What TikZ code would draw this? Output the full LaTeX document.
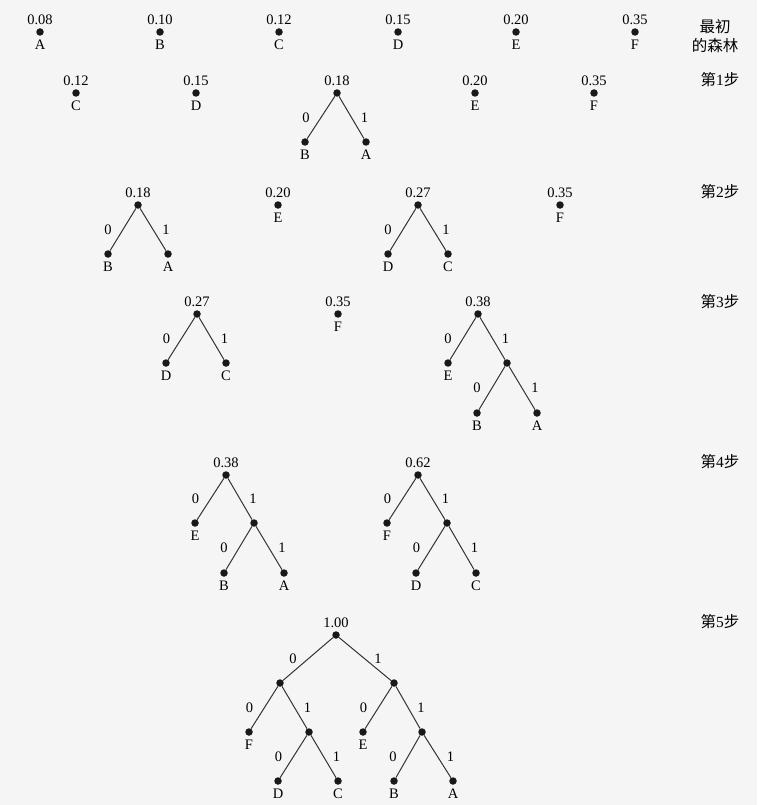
\documentclass[tikz,border=0pt]{standalone}
\usepackage{fontspec}
\setmainfont{Liberation Serif}
\newfontfamily\cjk{Noto Sans CJK SC}
\usetikzlibrary{positioning}

\begin{document}
\begin{tikzpicture}[x=1pt, y=-1pt, label distance=1pt,
	dot/.style={circle, fill=black!90, inner sep=0pt, minimum size=7.5pt},
	val/.style={font=\fontsize{14.5}{17}\selectfont, inner sep=2.5pt},
	ltr/.style={font=\fontsize{14.5}{17}\selectfont, inner sep=2.5pt},
	link/.style={draw=black!80, line width=1pt},
	bit/.style={midway, font=\fontsize{14.5}{17}\selectfont},
	zero/.style={bit, xshift=-15pt},
	one/.style={bit, xshift=13pt},
	stepname/.style={font=\fontsize{15.5}{19}\selectfont, align=center}]
	\useasboundingbox[fill=black!4] (0,0) rectangle (757,805);

	% initial forest
	\node[dot, label={[val]above:0.08}, label={[ltr]below:A}] (a0) at (40,32) {};
	\node[dot, label={[val]above:0.10}, label={[ltr]below:B}] (b0) at (160,32) {};
	\node[dot, label={[val]above:0.12}, label={[ltr]below:C}] (c0) at (279,32) {};
	\node[dot, label={[val]above:0.15}, label={[ltr]below:D}] (d0) at (398,32) {};
	\node[dot, label={[val]above:0.20}, label={[ltr]below:E}] (e0) at (516,32) {};
	\node[dot, label={[val]above:0.35}, label={[ltr]below:F}] (f0) at (635,32) {};
	\node[stepname] (s0) at (715,36) {{\cjk 最初}\\{\cjk 的森林}};

	% step 1
	\node[dot, label={[val]above:0.12}, label={[ltr]below:C}] (c1) at (76,93) {};
	\node[dot, label={[val]above:0.15}, label={[ltr]below:D}] (d1) at (196,93) {};
	\node[dot, label={[val]above:0.18}] (ba1) at (337,93) {};
	\node[dot, label={[ltr]below:B}] (b1) at (305,142) {};
	\node[dot, label={[ltr]below:A}] (a1) at (366,142) {};
	\node[dot, label={[val]above:0.20}, label={[ltr]below:E}] (e1) at (475,93) {};
	\node[dot, label={[val]above:0.35}, label={[ltr]below:F}] (f1) at (594,93) {};
	\draw[link] (ba1) -- node[zero] {0} (b1);
	\draw[link] (ba1) -- node[one] {1} (a1);
	\node[stepname] (s1) at (720,80) {{\cjk 第}1{\cjk 步}};

	% step 2
	\node[dot, label={[val]above:0.18}] (ba2) at (138,205) {};
	\node[dot, label={[ltr]below:B}] (b2) at (108,254) {};
	\node[dot, label={[ltr]below:A}] (a2) at (168,254) {};
	\node[dot, label={[val]above:0.20}, label={[ltr]below:E}] (e2) at (278,205) {};
	\node[dot, label={[val]above:0.27}] (dc2) at (418,205) {};
	\node[dot, label={[ltr]below:D}] (d2) at (388,254) {};
	\node[dot, label={[ltr]below:C}] (c2) at (448,254) {};
	\node[dot, label={[val]above:0.35}, label={[ltr]below:F}] (f2) at (560,205) {};
	\draw[link] (ba2) -- node[zero] {0} (b2);
	\draw[link] (ba2) -- node[one] {1} (a2);
	\draw[link] (dc2) -- node[zero] {0} (d2);
	\draw[link] (dc2) -- node[one] {1} (c2);
	\node[stepname] (s2) at (720,192) {{\cjk 第}2{\cjk 步}};

	% step 3
	\node[dot, label={[val]above:0.27}] (dc3) at (197,314) {};
	\node[dot, label={[ltr]below:D}] (d3) at (166,363) {};
	\node[dot, label={[ltr]below:C}] (c3) at (226,363) {};
	\node[dot, label={[val]above:0.35}, label={[ltr]below:F}] (f3) at (338,314) {};
	\node[dot, label={[val]above:0.38}] (eba3) at (478,314) {};
	\node[dot, label={[ltr]below:E}] (e3) at (448,363) {};
	\node[dot] (ba3) at (507,363) {};
	\node[dot, label={[ltr]below:B}] (b3) at (477,413) {};
	\node[dot, label={[ltr]below:A}] (a3) at (537,413) {};
	\draw[link] (dc3) -- node[zero] {0} (d3);
	\draw[link] (dc3) -- node[one] {1} (c3);
	\draw[link] (eba3) -- node[zero] {0} (e3);
	\draw[link] (eba3) -- node[one] {1} (ba3);
	\draw[link] (ba3) -- node[zero] {0} (b3);
	\draw[link] (ba3) -- node[one] {1} (a3);
	\node[stepname] (s3) at (720,302) {{\cjk 第}3{\cjk 步}};

	% step 4
	\node[dot, label={[val]above:0.38}] (eba4) at (226,475) {};
	\node[dot, label={[ltr]below:E}] (e4) at (195,523) {};
	\node[dot] (ba4) at (254,523) {};
	\node[dot, label={[ltr]below:B}] (b4) at (224,573) {};
	\node[dot, label={[ltr]below:A}] (a4) at (284,573) {};
	\node[dot, label={[val]above:0.62}] (fdc4) at (418,475) {};
	\node[dot, label={[ltr]below:F}] (f4) at (387,523) {};
	\node[dot] (dc4) at (447,523) {};
	\node[dot, label={[ltr]below:D}] (d4) at (416,573) {};
	\node[dot, label={[ltr]below:C}] (c4) at (476,573) {};
	\draw[link] (eba4) -- node[zero] {0} (e4);
	\draw[link] (eba4) -- node[one] {1} (ba4);
	\draw[link] (ba4) -- node[zero] {0} (b4);
	\draw[link] (ba4) -- node[one] {1} (a4);
	\draw[link] (fdc4) -- node[zero] {0} (f4);
	\draw[link] (fdc4) -- node[one] {1} (dc4);
	\draw[link] (dc4) -- node[zero] {0} (d4);
	\draw[link] (dc4) -- node[one] {1} (c4);
	\node[stepname] (s4) at (720,462) {{\cjk 第}4{\cjk 步}};

	% step 5
	\node[dot, label={[val]above:1.00}] (all5) at (336,635) {};
	\node[dot] (fdc5) at (280,683) {};
	\node[dot] (eba5) at (394,683) {};
	\node[dot, label={[ltr]below:F}] (f5) at (249,732) {};
	\node[dot] (dc5) at (309,732) {};
	\node[dot, label={[ltr]below:E}] (e5) at (363,732) {};
	\node[dot] (ba5) at (422,732) {};
	\node[dot, label={[ltr]below:D}] (d5) at (278,781) {};
	\node[dot, label={[ltr]below:C}] (c5) at (338,781) {};
	\node[dot, label={[ltr]below:B}] (b5) at (394,781) {};
	\node[dot, label={[ltr]below:A}] (a5) at (453,781) {};
	\draw[link] (all5) -- node[zero] {0} (fdc5);
	\draw[link] (all5) -- node[one] {1} (eba5);
	\draw[link] (fdc5) -- node[zero] {0} (f5);
	\draw[link] (fdc5) -- node[one] {1} (dc5);
	\draw[link] (dc5) -- node[zero] {0} (d5);
	\draw[link] (dc5) -- node[one] {1} (c5);
	\draw[link] (eba5) -- node[zero] {0} (e5);
	\draw[link] (eba5) -- node[one] {1} (ba5);
	\draw[link] (ba5) -- node[zero] {0} (b5);
	\draw[link] (ba5) -- node[one] {1} (a5);
	\node[stepname] (s5) at (720,622) {{\cjk 第}5{\cjk 步}};
\end{tikzpicture}
\end{document}
